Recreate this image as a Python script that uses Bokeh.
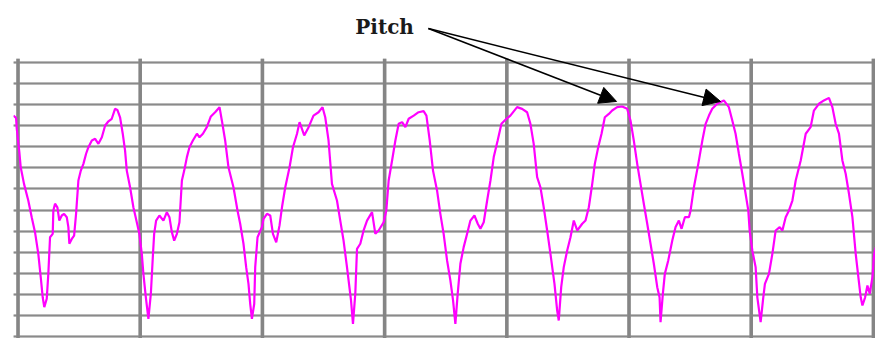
from bokeh.plotting import figure
from bokeh.models import Range1d, Grid, FixedTicker, Label, Arrow, NormalHead
from bokeh.embed import file_html
from bokeh.resources import INLINE

# time (ms) and pitch (grid divisions)
t_ms = [-0.38, -0.16, -0.11, 0.11, 0.22, 0.49, 0.84, 1.12, 1.39, 1.66, 1.86, 2.02, 2.15, 2.35, 2.48, 2.62,
        2.84, 2.89, 3.03, 3.22, 3.38, 3.58, 3.77, 3.99, 4.12, 4.20, 4.40, 4.59, 4.75, 4.94, 5.14, 5.35,
        5.57, 5.76, 6.04, 6.31, 6.58, 6.86, 7.13, 7.40, 7.67, 7.94, 8.13, 8.35, 8.57, 8.76, 8.90, 9.17,
        9.44, 9.72, 9.93, 10.13, 10.26, 10.46, 10.67, 10.87, 11.03, 11.14, 11.30, 11.57, 11.90, 12.18,
        12.39, 12.59, 12.78, 13.00, 13.21, 13.41, 13.60, 13.82, 14.03, 14.31, 14.64, 14.85, 15.13, 15.45,
        15.78, 16.13, 16.49, 16.68, 16.95, 17.22, 17.63, 17.96, 18.18, 18.45, 18.67, 18.86, 19.00, 19.14,
        19.33, 19.41, 19.60, 19.96, 20.09, 20.37, 20.64, 20.86, 21.13, 21.40, 21.60, 21.87, 22.22, 22.50,
        22.83, 23.04, 23.42, 23.78, 24.18, 24.59, 24.92, 25.14, 25.41, 25.69, 26.10, 26.37, 26.64, 26.92,
        27.25, 27.41, 27.60, 27.74, 28.01, 28.28, 28.56, 28.97, 29.24, 29.51, 29.92, 30.14, 30.33, 30.61,
        30.88, 31.15, 31.43, 31.70, 31.97, 32.38, 32.78, 33.19, 33.42, 33.69, 33.96, 34.29, 34.56, 34.83,
        35.11, 35.38, 35.60, 35.79, 35.98, 36.20, 36.47, 36.75, 37.02, 37.35, 37.62, 37.84, 38.11, 38.39,
        38.66, 38.93, 39.25, 39.56, 39.97, 40.29, 40.84, 41.25, 41.66, 41.93, 42.20, 42.48, 42.75, 43.02,
        43.30, 43.57, 43.90, 44.12, 44.25, 44.45, 44.66, 44.94, 45.21, 45.48, 45.76, 46.17, 46.44, 46.71,
        46.99, 47.20, 47.48, 47.75, 48.02, 48.35, 48.62, 49.03, 49.44, 49.85, 50.12, 50.39, 50.67, 50.94,
        51.21, 51.49, 51.76, 52.03, 52.31, 52.50, 52.58, 52.77, 52.93, 53.21, 53.54, 53.81, 54.08, 54.30,
        54.57, 54.90, 55.04, 55.31, 55.67, 56.00, 56.27, 56.54, 56.81, 57.22, 57.76, 58.17, 58.45, 58.72,
        58.99, 59.27, 59.54, 59.76, 59.87, 60.09, 60.36, 60.50, 60.77, 60.96, 61.12, 61.45, 61.73, 62.00,
        62.33, 62.55, 62.82, 63.09, 63.37, 63.64, 64.05, 64.46, 64.86, 65.13, 65.54, 65.95, 66.36, 66.64,
        66.91, 67.18, 67.46, 67.73, 68.00, 68.28, 68.55, 68.77, 68.96, 69.10, 69.32, 69.51, 69.70, 69.92,
        70.06, 70.20]
pitch = [10.48, 10.37, 9.90, 8.74, 8.03, 7.24, 6.45, 5.66, 4.95, 3.92, 2.81, 1.86, 1.39, 1.79, 2.97, 4.71,
         4.87, 5.98, 6.30, 6.13, 5.50, 5.74, 5.82, 5.66, 5.19, 4.40, 4.63, 4.79, 5.82, 7.40, 7.87, 8.19,
         8.67, 8.98, 9.30, 9.38, 9.14, 9.45, 10.01, 10.21, 10.33, 10.80, 10.75, 10.40, 9.62, 8.82, 7.87, 7.08,
         6.13, 5.42, 4.87, 3.92, 2.97, 1.86, 0.84, 2.03, 3.76, 4.87, 5.50, 5.74, 5.50, 5.90,
         5.66, 4.95, 4.55, 4.87, 5.42, 7.40, 7.87, 8.51, 8.98, 9.30, 9.62, 9.45, 9.62, 9.93,
         10.44, 10.64, 10.88, 10.25, 9.30, 8.03, 7.08, 5.98, 5.35, 4.40, 3.29, 2.50, 1.55, 0.84,
         1.55, 3.29, 4.71, 5.19, 5.58, 5.82, 5.74, 4.87, 4.47, 5.27, 6.13, 7.08, 8.03, 8.98,
         9.62, 10.17, 9.54, 9.93, 10.48, 10.64, 10.88, 10.40, 9.30, 7.24, 6.45, 5.50, 4.55, 3.29,
         1.71, 0.60, 2.03, 4.16, 4.40, 5.03, 5.50, 5.90, 4.87, 5.03, 5.42, 5.98, 7.40, 8.35,
         9.30, 10.09, 10.17, 9.93, 10.33, 10.48, 10.64, 10.69, 10.48, 9.30, 7.87, 6.93, 5.82, 4.87,
         3.61, 2.66, 1.71, 0.60, 2.03, 3.45, 4.24, 4.87, 5.50, 5.74, 5.35, 5.11, 5.42, 6.45,
         7.40, 8.51, 9.30, 10.09, 10.33, 10.48, 10.88, 10.80, 10.64, 10.09, 9.14, 7.56, 7.08, 6.13,
         5.03, 3.92, 2.50, 1.23, 0.76, 2.34, 3.29, 4.08, 4.71, 5.50, 5.03, 5.35, 5.50, 6.13,
         7.24, 8.19, 8.98, 9.62, 10.40, 10.56, 10.72, 10.88, 10.91, 10.80, 10.25, 9.30, 8.19, 7.24,
         6.30, 5.35, 4.40, 3.45, 2.34, 1.86, 0.68, 2.03, 2.97, 3.61, 4.55, 5.19, 5.50, 5.11,
         5.66, 5.66, 5.98, 7.08, 8.19, 9.30, 10.09, 10.48, 10.80, 11.04, 11.20, 10.88, 10.25, 9.62,
         8.67, 7.72, 6.77, 5.98, 5.03, 4.08, 3.29, 1.86, 0.68, 1.71, 2.50, 2.97, 3.92, 5.03,
         5.19, 5.03, 5.66, 5.98, 6.45, 7.40, 8.35, 9.62, 9.93, 10.72, 11.04, 11.20, 11.32, 10.88,
         10.09, 9.62, 8.35, 7.72, 6.77, 5.66, 3.92, 2.81, 1.86, 1.47, 1.86, 2.42, 2.03, 2.81,
         3.92, 4.24]

x_grid_ticks = [0, 10, 20, 30, 40, 50, 60, 70]
y_grid_ticks = list(range(14))
grid_top = 13.19
y_bottom = -0.095

annotation_text = "Pitch"
text_pos = (27.6, 14.66)
arrow_start = (33.58, 14.61)
arrow_ends = [(48.98, 11.15), (57.49, 11.15)]

p = figure(width=875, height=338, output_backend="svg", toolbar_location=None,
           x_axis_location=None, y_axis_location=None,
           x_range=Range1d(-0.37, 70.17), y_range=Range1d(y_bottom, 15.94),
           min_border_left=13, min_border_right=0, min_border_top=0, min_border_bottom=0)
p.outline_line_color = None
p.grid.visible = False
p.background_fill_color = "white"
p.border_fill_color = "white"

# dotted-texture grid: light base with a darker fine dash on top
p.add_layout(Grid(dimension=1, ticker=FixedTicker(ticks=y_grid_ticks),
                  grid_line_color="#a9a9a9", grid_line_width=2), "center")
p.add_layout(Grid(dimension=1, ticker=FixedTicker(ticks=y_grid_ticks),
                  grid_line_color="#6a6a6a", grid_line_width=2, grid_line_dash="1 1"), "center")

n = len(x_grid_ticks)
p.segment(x0=x_grid_ticks, y0=[y_bottom] * n, x1=x_grid_ticks, y1=[grid_top] * n,
          line_color="#a5a5a5", line_width=3.5)
p.segment(x0=x_grid_ticks, y0=[y_bottom] * n, x1=x_grid_ticks, y1=[grid_top] * n,
          line_color="#666666", line_width=3.5, line_dash="1 1")

p.line(t_ms, pitch, line_color="#ff00ff", line_width=2.2)

p.add_layout(Label(x=text_pos[0], y=text_pos[1], text=annotation_text,
                   text_font="DejaVu Serif", text_font_style="bold", text_font_size="20px",
                   text_color="#1a1a1a", text_baseline="alphabetic", text_align="left"))

for (xe, ye) in arrow_ends:
    p.add_layout(Arrow(x_start=arrow_start[0], y_start=arrow_start[1], x_end=xe, y_end=ye,
                       line_color="black", line_width=1.5,
                       end=NormalHead(size=17, fill_color="black", line_color="black", line_width=1)))

open("out.html", "w").write(file_html(p, INLINE))
